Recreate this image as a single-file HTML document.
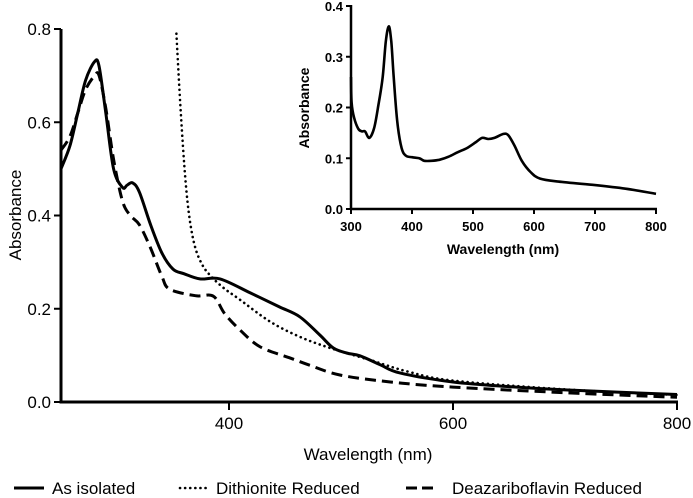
<!DOCTYPE html>
<html><head><meta charset="utf-8"><style>
html,body{margin:0;padding:0;background:#fff;}
svg{display:block;font-family:"Liberation Sans",sans-serif;}
</style></head><body>
<svg id="chart" width="693" height="498"></svg>
<script>
const wlIso=[250,258,265,272,280,284,290,297,305,309,314,320,330,340,350,360,374,392,419,445,463,481,493,505,517,535,553,600,650,700,800];
const absIso=[0.50,0.55,0.62,0.69,0.73,0.72,0.62,0.50,0.46,0.465,0.47,0.45,0.38,0.32,0.285,0.275,0.264,0.264,0.234,0.204,0.183,0.144,0.116,0.105,0.099,0.08,0.062,0.043,0.033,0.026,0.016];
const wlDeaz=[250,258,265,272,280,284,290,297,305,312,320,330,340,347,370,386,396,410,428,455,472,499,544,600,700,800];
const absDeaz=[0.54,0.57,0.62,0.67,0.70,0.70,0.63,0.52,0.43,0.40,0.38,0.33,0.27,0.242,0.228,0.227,0.19,0.154,0.118,0.094,0.079,0.058,0.043,0.032,0.02,0.01];
const wlDith=[353,357,361,365,370,376,383,395,410,437,463,490,526,560,600,700,800];
const absDith=[0.79,0.62,0.48,0.39,0.33,0.295,0.272,0.245,0.219,0.172,0.14,0.116,0.09,0.065,0.046,0.027,0.015];
const wlInset=[300,301,305,312,318,323,330,338,345,352,357,362,366,370,376,383,390,400,412,420,432,445,460,475,490,505,515,525,535,550,558,568,580,595,610,640,700,750,800];
const absInset=[0.26,0.21,0.18,0.158,0.153,0.153,0.14,0.16,0.205,0.26,0.33,0.36,0.33,0.26,0.17,0.12,0.105,0.102,0.1,0.095,0.095,0.097,0.103,0.112,0.12,0.132,0.14,0.138,0.14,0.148,0.145,0.125,0.095,0.072,0.06,0.054,0.047,0.04,0.03];
const mainXTicks=[400,600,800];
const mainYTicks=[0,0.2,0.4,0.6,0.8];
const insetXTicks=[300,400,500,600,700,800];
const insetYTicks=[0,0.1,0.2,0.3,0.4];

const NS="http://www.w3.org/2000/svg";
const svg=document.getElementById('chart');
function mk(tag,attrs,parent){const e=document.createElementNS(NS,tag);for(const k in attrs)e.setAttribute(k,attrs[k]);(parent||svg).appendChild(e);return e;}
const mx=w=>61+(w-250)*(616/550);
const my=a=>402-a*(373/0.8);
const ix=w=>351+(w-300)*(305/500);
const iy=a=>209-a*(203/0.4);
function smooth(xs,ys,fx,fy){
  const p=xs.map((x,i)=>[fx(x),fy(ys[i])]);
  let d="M"+p[0][0].toFixed(1)+","+p[0][1].toFixed(1);
  for(let i=0;i<p.length-1;i++){
    const p0=p[i-1]||p[i],p1=p[i],p2=p[i+1],p3=p[i+2]||p2;
    const c1=[p1[0]+(p2[0]-p0[0])/6,p1[1]+(p2[1]-p0[1])/6];
    const c2=[p2[0]-(p3[0]-p1[0])/6,p2[1]-(p3[1]-p1[1])/6];
    d+=" C"+c1.map(v=>v.toFixed(1))+" "+c2.map(v=>v.toFixed(1))+" "+p2.map(v=>v.toFixed(1));
  }
  return d;
}
let e;
e=mk('line',{x1:61,y1:29,x2:61,y2:403,stroke:'#000','stroke-width':3});

e=mk('line',{x1:59.5,y1:402,x2:678,y2:402,stroke:'#000','stroke-width':3});

mainYTicks.forEach(t=>{
  e=mk('line',{x1:54,y1:my(t),x2:61,y2:my(t),stroke:'#000','stroke-width':2});
  
  e=mk('text',{x:51,y:my(t)+6,'text-anchor':'end','font-size':17});e.textContent=t.toFixed(1);
  
});
mainXTicks.forEach(t=>{
  e=mk('line',{x1:mx(t),y1:402,x2:mx(t),y2:410,stroke:'#000','stroke-width':2});
  
  e=mk('text',{x:mx(t),y:429,'text-anchor':'middle','font-size':17});e.textContent=t;
  
});
e=mk('text',{x:368,y:460,'text-anchor':'middle','font-size':17});e.textContent='Wavelength (nm)';

e=mk('text',{x:0,y:0,'text-anchor':'middle','font-size':17,transform:'translate(21,215) rotate(-90)'});e.textContent='Absorbance';

e=mk('path',{d:smooth(wlIso,absIso,mx,my),fill:'none',stroke:'#000','stroke-width':3});

e=mk('path',{d:smooth(wlDith,absDith,mx,my),fill:'none',stroke:'#000','stroke-width':2.6,'stroke-dasharray':'0.1 5','stroke-linecap':'round'});

e=mk('path',{d:smooth(wlDeaz,absDeaz,mx,my),fill:'none',stroke:'#000','stroke-width':3,'stroke-dasharray':'11 6'});

const g=mk('g',{});
e=mk('line',{x1:351,y1:5,x2:351,y2:210,stroke:'#000','stroke-width':2.5},g);

e=mk('line',{x1:350,y1:209,x2:657,y2:209,stroke:'#000','stroke-width':2.5},g);

insetYTicks.forEach(t=>{
  e=mk('line',{x1:346,y1:iy(t),x2:351,y2:iy(t),stroke:'#000','stroke-width':2},g);
  
  e=mk('text',{x:343,y:iy(t)+5,'text-anchor':'end','font-size':13,'font-weight':'bold'},g);e.textContent=t.toFixed(1);
  
});
insetXTicks.forEach(t=>{
  e=mk('line',{x1:ix(t),y1:209,x2:ix(t),y2:214,stroke:'#000','stroke-width':2},g);
  
  e=mk('text',{x:ix(t),y:231,'text-anchor':'middle','font-size':13,'font-weight':'bold'},g);e.textContent=t;
  
});
e=mk('text',{x:503,y:254,'text-anchor':'middle','font-size':14,'font-weight':'bold'},g);e.textContent='Wavelength (nm)';

e=mk('text',{x:0,y:0,'text-anchor':'middle','font-size':14,'font-weight':'bold',transform:'translate(309,108) rotate(-90)'},g);e.textContent='Absorbance';

e=mk('path',{d:smooth(wlInset,absInset,ix,iy),fill:'none',stroke:'#000','stroke-width':2.6},g);

const lg=mk('g',{});
const legendItems=[['As isolated',14,'',52,'legend-as-isolated'],['Dithionite Reduced',180,'0.1 5',216,'legend-dithionite-reduced'],['Deazariboflavin Reduced',406,'11 5',452,'legend-deazariboflavin-reduced']];
legendItems.forEach(it=>{
  const a={x1:it[1],y1:488,x2:it[1]+30,y2:488,stroke:'#000','stroke-width':it[2]==='0.1 5'?2.6:3};
  if(it[2]){a['stroke-dasharray']=it[2];}
  if(it[2]==='0.1 5')a['stroke-linecap']='round';
  e=mk('line',a,lg);
  e=mk('text',{x:it[3],y:494,'font-size':17},lg);e.textContent=it[0];
  
});
</script>
</body></html>
